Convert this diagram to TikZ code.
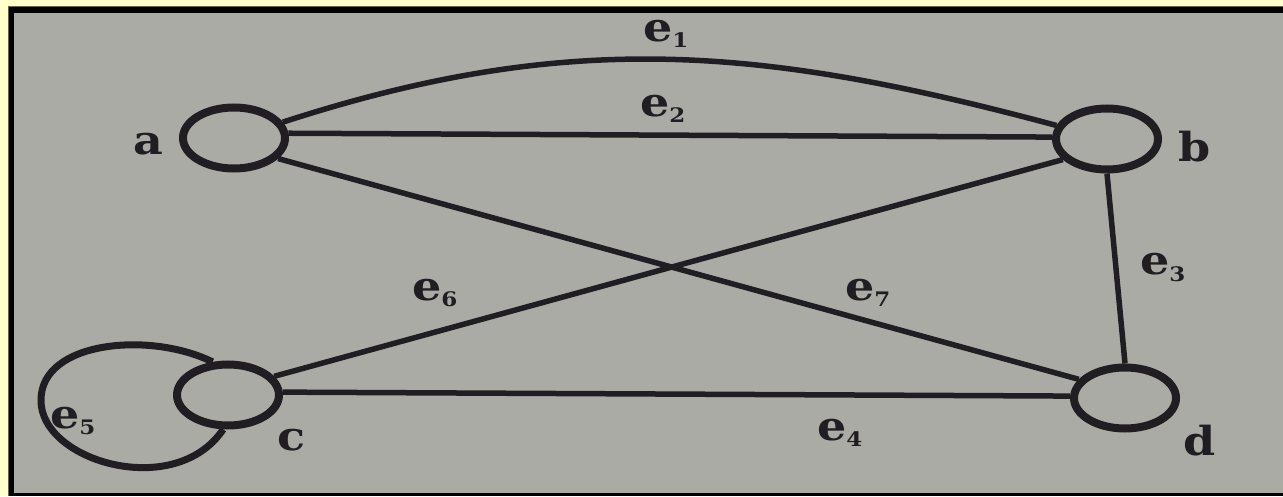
\documentclass[tikz,border=0pt]{standalone}
\usepackage{fontspec}
\usepackage{tikz}
\usetikzlibrary{shapes.geometric}
\newfontfamily\lblfont{DejaVu Serif}[FakeStretch=1.15]
\definecolor{cream}{RGB}{255,255,204}
\definecolor{paper}{RGB}{170,171,165}
\definecolor{ink}{RGB}{32,30,34}
\newcommand{\eg}[1]{e\raisebox{-6pt}{\fontsize{20}{20}\selectfont#1}}

\begin{document}
\begin{tikzpicture}[x=1pt,y=1pt,
  vtx/.style={draw=ink,fill=paper,ellipse,line width=8pt,minimum width=102pt,minimum height=61pt,inner sep=0pt},
  lbl/.style={text=ink,anchor=base west,inner sep=0pt,font=\lblfont\bfseries\fontsize{40}{40}\selectfont},
  edg/.style={draw=ink,line width=5.5pt}]
\useasboundingbox (0,0) rectangle (1283,496);
% frame of the photo
\fill[cream] (0,0) rectangle (1283,496);
\fill[black] (8,0) rectangle (1283,489);
\fill[paper] (14,3) rectangle (1283,483);
\draw[olive!70!black,line width=1pt] (8,0)--(8,489)--(1283,489);
% vertices
\node[vtx] (a) at (234,358) {};
\node[vtx] (b) at (1107,357) {};
\node[vtx] (c) at (228,101) {};
\node[vtx] (d) at (1125,98) {};
\node[lbl] (la) at (133,341) {a};
\node[lbl] (lb) at (1178,334) {b};
\node[lbl] (lc) at (277,46) {c};
\node[lbl] (ld) at (1183,41) {d};
% edges
\draw[edg] (a.18) to[out=18,in=165] (b.165);
\draw[edg] (a.5) -- (b.178);
\draw[edg] (b.south) -- (d.north);
\draw[edg] (c.3) -- (d.178);
\draw[edg,line width=7pt] (c.115) .. controls (150,165) and (41,155) .. (41,96)
  .. controls (40,35) and (175,-5) .. (c.262);
\draw[edg] (c.22) -- (b.205);
\draw[edg] (a.335) -- (d.158);
\node[lbl] (e1) at (643,454) {\eg{1}};
\node[lbl] (e2) at (640,379) {\eg{2}};
\node[lbl] (e3) at (1140,221) {\eg{3}};
\node[lbl] (e4) at (817,56) {\eg{4}};
\node[lbl] (e5) at (50,68) {\eg{5}};
\node[lbl] (e6) at (412,196) {\eg{6}};
\node[lbl] (e7) at (845,196) {\eg{7}};
\end{tikzpicture}
\end{document}
